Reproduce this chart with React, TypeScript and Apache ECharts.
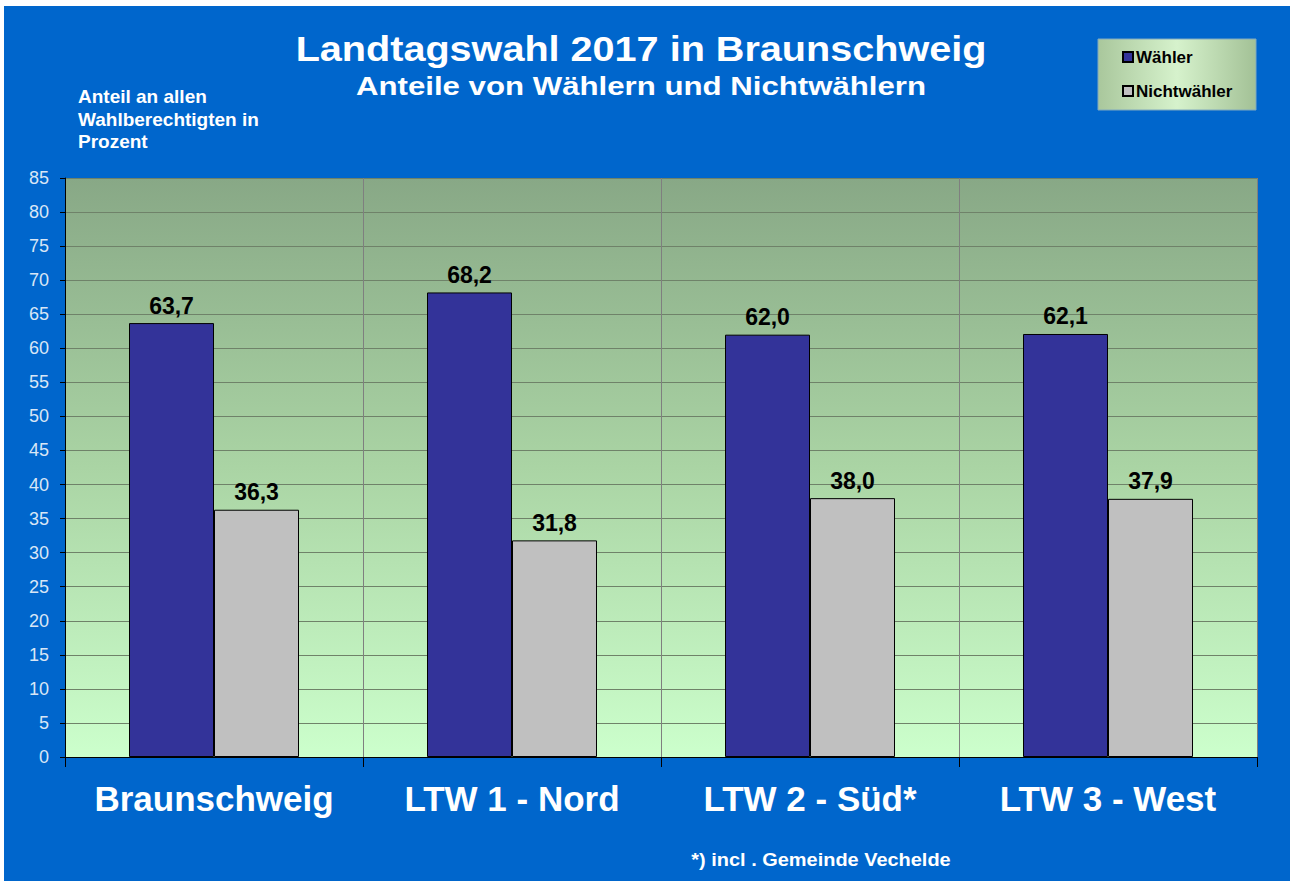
import React, { useEffect, useRef } from "react";
import * as echarts from "echarts";

const categories = ["Braunschweig", "LTW 1 - Nord", "LTW 2 - Süd*", "LTW 3 - West"];
const waehler = [63.7, 68.2, 62.0, 62.1];
const nichtwaehler = [36.3, 31.8, 38.0, 37.9];
const seriesNames = ["Wähler", "Nichtwähler"];
const titleText = "Landtagswahl 2017 in Braunschweig";
const subtitleText = "Anteile von Wählern und Nichtwählern";
const yAxisNote = "Anteil an allen\nWahlberechtigten in\nProzent";
const footnote = "*) incl . Gemeinde Vechelde";

const FONT = "'Liberation Sans', Arial, Helvetica, sans-serif";

export default function App() {
  const ref = useRef<HTMLDivElement>(null);
  useEffect(() => {
    document.body.style.margin = "0";
    document.body.style.background = "#ffffff";
    const chart = echarts.init(ref.current!, null, { renderer: "svg" });
    const fmt = (p: any) => Number(p.value).toFixed(1).replace(".", ",");
    const labelStyle = {
      show: true,
      position: "top",
      distance: 6,
      color: "#000",
      fontWeight: "bold",
      fontSize: 23,
      fontFamily: FONT,
      formatter: fmt,
    };
    chart.setOption({
      animation: false,
      backgroundColor: "#0066cc",
      textStyle: { fontFamily: FONT },
      grid: {
        left: 61,
        top: 172,
        width: 1192,
        height: 579,
        show: true,
        borderWidth: 0,
        backgroundColor: new echarts.graphic.LinearGradient(0, 0, 0, 1, [
          { offset: 0, color: "#88a886" },
          { offset: 0.5, color: "#aad4a4" },
          { offset: 1, color: "#ccffcc" },
        ]),
      },
      legend: {
        orient: "vertical",
        left: 1118,
        top: 41,
        padding: 0,
        itemWidth: 10,
        itemHeight: 10,
        itemGap: 14,
        icon: "rect",
        z: 10,
        textStyle: {
          color: "#000",
          fontWeight: "bold",
          fontSize: 17,
          lineHeight: 20,
          fontFamily: FONT,
          padding: [0, 0, 0, -2],
        },
        data: seriesNames,
      },
      xAxis: {
        type: "category",
        data: categories,
        axisLine: { show: true, lineStyle: { color: "#000", width: 1 } },
        axisTick: { show: true, interval: 0, length: 10, lineStyle: { color: "#000" } },
        splitLine: { show: true, interval: 0, lineStyle: { color: "#7f7f7f", width: 1 } },
        axisLabel: {
          interval: 0,
          color: "#ffffff",
          fontWeight: "bold",
          fontSize: 35,
          fontFamily: FONT,
          margin: 24,
        },
      },
      yAxis: {
        type: "value",
        min: 0,
        max: 85,
        interval: 5,
        axisLine: { show: true, lineStyle: { color: "#000", width: 1 } },
        axisTick: { show: true, length: 5, lineStyle: { color: "#000" } },
        splitLine: { show: true, lineStyle: { color: "#6f8269", width: 1 } },
        axisLabel: {
          color: "#d9e6f6",
          fontSize: 18,
          fontFamily: FONT,
          margin: 16,
        },
      },
      series: [
        {
          name: seriesNames[0],
          type: "bar",
          data: waehler,
          barWidth: 85,
          barGap: "0%",
          itemStyle: { color: "#333399", borderColor: "#000", borderWidth: 1 },
          label: labelStyle,
        },
        {
          name: seriesNames[1],
          type: "bar",
          data: nichtwaehler,
          barWidth: 85,
          barGap: "0%",
          itemStyle: { color: "#c0c0c0", borderColor: "#000", borderWidth: 1 },
          label: labelStyle,
        },
      ],
      graphic: [
        {
          type: "rect",
          z: 0,
          shape: { x: 1094, y: 33, width: 158, height: 71 },
          style: {
            fill: new echarts.graphic.LinearGradient(0, 0, 1, 0, [
              { offset: 0, color: "#a9c79c" },
              { offset: 0.5, color: "#d6f2cc" },
              { offset: 1, color: "#a3c196" },
            ]),
            stroke: "#7fa8c0",
            lineWidth: 1,
          },
        },
        {
          type: "text",
          x: 637,
          y: 43,
          scaleX: 1.1,
          style: {
            text: titleText,
            align: "center",
            verticalAlign: "middle",
            fill: "#ffffff",
            fontWeight: "bold",
            fontSize: 36,
            fontFamily: FONT,
          },
        },
        {
          type: "text",
          x: 637,
          y: 80,
          scaleX: 1.2,
          style: {
            text: subtitleText,
            align: "center",
            verticalAlign: "middle",
            fill: "#ffffff",
            fontWeight: "bold",
            fontSize: 26,
            fontFamily: FONT,
          },
        },
        {
          type: "text",
          x: 74,
          y: 113,
          style: {
            text: yAxisNote,
            align: "left",
            verticalAlign: "middle",
            fill: "#ffffff",
            fontWeight: "bold",
            fontSize: 19,
            lineHeight: 22.5,
            fontFamily: FONT,
          },
        },
        {
          type: "text",
          x: 817,
          y: 853,
          scaleX: 1.05,
          style: {
            text: footnote,
            align: "center",
            verticalAlign: "middle",
            fill: "#ffffff",
            fontWeight: "bold",
            fontSize: 19,
            fontFamily: FONT,
          },
        },
      ],
    });
    return () => chart.dispose();
  }, []);
  return (
    <div
      ref={ref}
      style={{ position: "absolute", left: 4, top: 6, width: 1286, height: 875 }}
    />
  );
}
